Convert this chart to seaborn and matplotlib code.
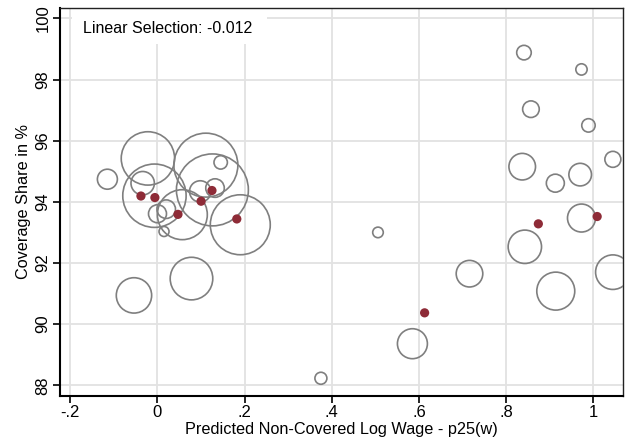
import matplotlib
matplotlib.use("Agg")
import matplotlib.pyplot as plt
import seaborn as sns
import pandas as pd
from matplotlib.patches import Rectangle

# Hollow circles: predicted non-covered log wage, coverage share, weight
circle_x = [0.841, 0.973, 0.857, 0.989, 0.837, 1.045, 0.913, 0.970, 0.973, 0.843,
            0.914, 1.045, 0.506, 0.716, 0.585, 0.375, -0.054, 0.078, -0.115, -0.022,
            -0.034, -0.007, 0.000, 0.020, 0.015, 0.057, 0.111, 0.126, 0.145, 0.132,
            0.098, 0.190]
circle_y = [98.88, 98.33, 97.03, 96.50, 95.15, 95.39, 94.61, 94.89, 93.47, 92.53,
            91.08, 91.70, 93.00, 91.65, 89.36, 88.23, 90.94, 91.49, 94.74, 95.42,
            94.61, 94.20, 93.61, 93.76, 93.03, 93.58, 95.20, 94.39, 95.29, 94.45,
            94.34, 93.25]
circle_w = [53, 32, 69, 45, 177, 64, 81, 128, 196, 279,
            361, 299, 28, 177, 225, 36, 313, 454, 100, 713,
            137, 1005, 81, 86, 25, 625, 1024, 1296, 45, 86,
            114, 900]

# Filled dots (binned means)
dot_x = [-0.038, -0.006, 0.047, 0.100, 0.125, 0.182, 0.613, 0.874, 1.009]
dot_y = [94.19, 94.14, 93.59, 94.02, 94.37, 93.44, 90.37, 93.28, 93.52]

xticks = [-0.2, 0, 0.2, 0.4, 0.6, 0.8, 1.0]
xticklabels = ["-.2", "0", ".2", ".4", ".6", ".8", "1"]
yticks = [88, 90, 92, 94, 96, 98, 100]
yticklabels = ["88", "90", "92", "94", "96", "98", "100"]

sns.set_theme(style="white")
plt.rcParams["font.family"] = ["Liberation Sans", "DejaVu Sans"]

fig = plt.figure(figsize=(6.33, 4.43), dpi=100)
ax = fig.add_axes([0.0953, 0.1068, 0.8894, 0.8745])

circ = pd.DataFrame({"x": circle_x, "y": circle_y, "w": circle_w})
dots = pd.DataFrame({"x": dot_x, "y": dot_y})

# s (pt^2) = 2.07 * w   (w ~ radius_px^2)
wmax = max(circle_w)
sns.scatterplot(data=circ, x="x", y="y", size="w", sizes=(0, 2.07 * wmax),
                size_norm=(0, wmax), facecolor="none", edgecolor="#7f7f7f",
                linewidth=1.2, legend=False, ax=ax, zorder=3)
sns.scatterplot(data=dots, x="x", y="y", color="#8e2b37", s=44,
                edgecolor="none", legend=False, ax=ax, zorder=4)

ax.set_xlim(-0.223, 1.069)
ax.set_ylim(87.66, 100.33)
ax.set_xticks(xticks)
ax.set_xticklabels(xticklabels, fontsize=12)
ax.set_yticks(yticks)
ax.set_yticklabels(yticklabels, fontsize=12, rotation=90, va="center")
ax.grid(True, color="#e2e2e2", linewidth=1.3, zorder=0)
ax.set_axisbelow(True)
ax.tick_params(axis="both", direction="out", length=5, width=1.2, color="black",
               bottom=True, left=True, pad=2, labelcolor="black")
for side in ["left", "bottom"]:
    ax.spines[side].set_color("black")
    ax.spines[side].set_linewidth(1.5)
for side in ["top", "right"]:
    ax.spines[side].set_color("#222222")
    ax.spines[side].set_linewidth(1.0)

ax.set_xlabel("Predicted Non-Covered Log Wage - p25(w)", fontsize=11.7, color="black", labelpad=1)
ax.set_ylabel("Coverage Share in %", fontsize=11.7, color="black", labelpad=3)

ax.add_patch(Rectangle((0.0208, 0.908), 0.346, 0.09, transform=ax.transAxes,
                       facecolor="white", edgecolor="none", zorder=2))
ax.text(0.191, 0.9466, "Linear Selection: -0.012", transform=ax.transAxes,
        ha="center", va="center", fontsize=11.5, color="black", zorder=5)

fig.savefig("out.png", dpi=100)
